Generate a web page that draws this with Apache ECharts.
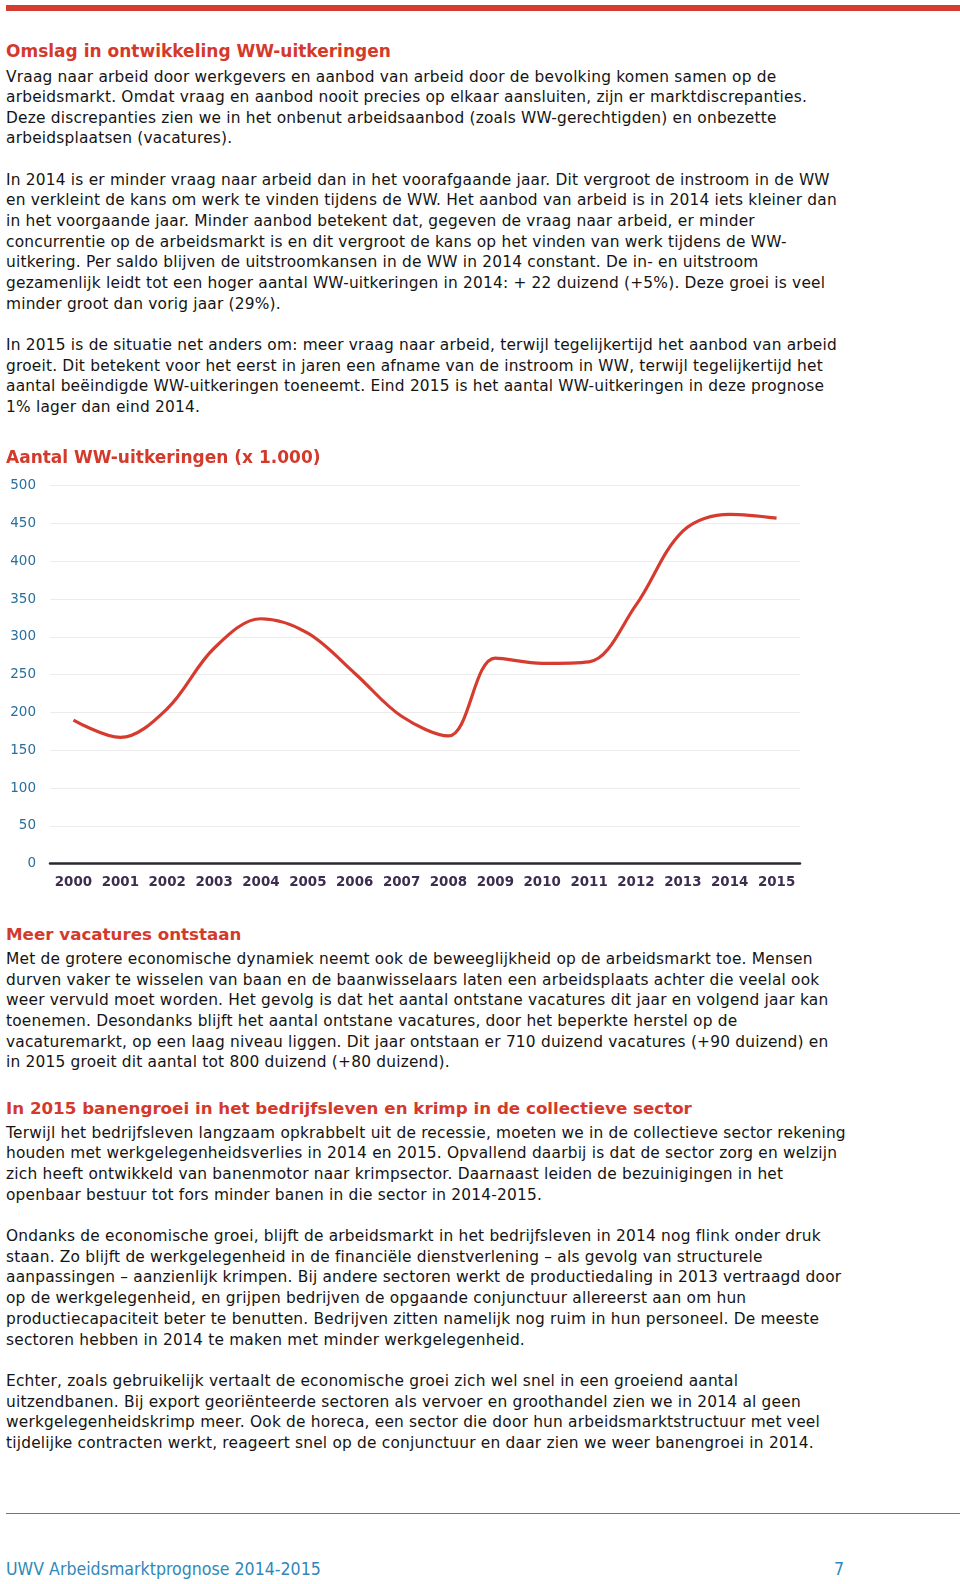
<!DOCTYPE html>
<html>
<head>
<meta charset="utf-8">
<script src="https://cdn.jsdelivr.net/npm/echarts@6/dist/echarts.min.js"></script>
<style>
  html, body { margin: 0; padding: 0; background: #fff; }
  body { width: 960px; height: 1584px; position: relative; overflow: hidden; font-family: "DejaVu Sans", Verdana, sans-serif; color: #141414; }
  .bar { position: absolute; left: 6px; right: 0; top: 5px; height: 6px; background: #d63b2f; }
  .rule { position: absolute; left: 6px; right: 0; top: 1513px; height: 1px; background: #dd4a42; }
  .h { position: absolute; left: 6px; font-size: 17px; font-weight: bold; color: #d43a2c; white-space: pre; line-height: 20px; }
  .p { position: absolute; left: 6px; font-size: 15.4px; letter-spacing: 0.2px; white-space: pre; line-height: 20.65px; }
  .foot { position: absolute; font-family: "DejaVu Sans Condensed", "DejaVu Sans", sans-serif; font-size: 17.6px; color: #2f88bb; white-space: pre; line-height: 21px; }
  #chart { position: absolute; left: 0; top: 430px; width: 960px; height: 480px; }
</style>
</head>
<body>
<div class="bar"></div>
<div class="h" style="top:41px">Omslag in ontwikkeling WW-uitkeringen</div>
<div class="p" id="p1" style="top:66.5px"></div>
<div id="chart"></div>
<div class="h" style="top:924px; font-size:16.7px">Meer vacatures ontstaan</div>
<div class="p" id="p2" style="top:949px"></div>
<div class="h" style="top:1098px; font-size:16.7px">In 2015 banengroei in het bedrijfsleven en krimp in de collectieve sector</div>
<div class="p" id="p3" style="top:1122.5px; line-height:20.7px"></div>
<div class="rule"></div>
<div class="foot" style="left:6px; top:1559px">UWV Arbeidsmarktprognose 2014-2015</div>
<div class="foot" style="left:834px; top:1559px">7</div>
<script>
const years = ['2000','2001','2002','2003','2004','2005','2006','2007','2008','2009','2010','2011','2012','2013','2014','2015'];
const uitkeringen = [190, 167, 205, 285, 324, 305, 252, 195, 169, 272, 265, 267, 342, 440, 462, 457];
const chartTitle = 'Aantal WW-uitkeringen (x 1.000)';
const yMin = 0, yMax = 500, yStep = 50;

const textTop = [
  'Vraag naar arbeid door werkgevers en aanbod van arbeid door de bevolking komen samen op de',
  'arbeidsmarkt. Omdat vraag en aanbod nooit precies op elkaar aansluiten, zijn er marktdiscrepanties.',
  'Deze discrepanties zien we in het onbenut arbeidsaanbod (zoals WW-gerechtigden) en onbezette',
  'arbeidsplaatsen (vacatures).',
  '',
  'In 2014 is er minder vraag naar arbeid dan in het voorafgaande jaar. Dit vergroot de instroom in de WW',
  'en verkleint de kans om werk te vinden tijdens de WW. Het aanbod van arbeid is in 2014 iets kleiner dan',
  'in het voorgaande jaar. Minder aanbod betekent dat, gegeven de vraag naar arbeid, er minder',
  'concurrentie op de arbeidsmarkt is en dit vergroot de kans op het vinden van werk tijdens de WW-',
  'uitkering. Per saldo blijven de uitstroomkansen in de WW in 2014 constant. De in- en uitstroom',
  'gezamenlijk leidt tot een hoger aantal WW-uitkeringen in 2014: + 22 duizend (+5%). Deze groei is veel',
  'minder groot dan vorig jaar (29%).',
  '',
  'In 2015 is de situatie net anders om: meer vraag naar arbeid, terwijl tegelijkertijd het aanbod van arbeid',
  'groeit. Dit betekent voor het eerst in jaren een afname van de instroom in WW, terwijl tegelijkertijd het',
  'aantal beëindigde WW-uitkeringen toeneemt. Eind 2015 is het aantal WW-uitkeringen in deze prognose',
  '1% lager dan eind 2014.'
];
const textVacatures = [
  'Met de grotere economische dynamiek neemt ook de beweeglijkheid op de arbeidsmarkt toe. Mensen',
  'durven vaker te wisselen van baan en de baanwisselaars laten een arbeidsplaats achter die veelal ook',
  'weer vervuld moet worden. Het gevolg is dat het aantal ontstane vacatures dit jaar en volgend jaar kan',
  'toenemen. Desondanks blijft het aantal ontstane vacatures, door het beperkte herstel op de',
  'vacaturemarkt, op een laag niveau liggen. Dit jaar ontstaan er 710 duizend vacatures (+90 duizend) en',
  'in 2015 groeit dit aantal tot 800 duizend (+80 duizend).'
];
const textBanen = [
  'Terwijl het bedrijfsleven langzaam opkrabbelt uit de recessie, moeten we in de collectieve sector rekening',
  'houden met werkgelegenheidsverlies in 2014 en 2015. Opvallend daarbij is dat de sector zorg en welzijn',
  'zich heeft ontwikkeld van banenmotor naar krimpsector. Daarnaast leiden de bezuinigingen in het',
  'openbaar bestuur tot fors minder banen in die sector in 2014-2015.',
  '',
  'Ondanks de economische groei, blijft de arbeidsmarkt in het bedrijfsleven in 2014 nog flink onder druk',
  'staan. Zo blijft de werkgelegenheid in de financiële dienstverlening \u2013 als gevolg van structurele',
  'aanpassingen \u2013 aanzienlijk krimpen. Bij andere sectoren werkt de productiedaling in 2013 vertraagd door',
  'op de werkgelegenheid, en grijpen bedrijven de opgaande conjunctuur allereerst aan om hun',
  'productiecapaciteit beter te benutten. Bedrijven zitten namelijk nog ruim in hun personeel. De meeste',
  'sectoren hebben in 2014 te maken met minder werkgelegenheid.',
  '',
  'Echter, zoals gebruikelijk vertaalt de economische groei zich wel snel in een groeiend aantal',
  'uitzendbanen. Bij export georiënteerde sectoren als vervoer en groothandel zien we in 2014 al geen',
  'werkgelegenheidskrimp meer. Ook de horeca, een sector die door hun arbeidsmarktstructuur met veel',
  'tijdelijke contracten werkt, reageert snel op de conjunctuur en daar zien we weer banengroei in 2014.'
];
document.getElementById('p1').textContent = textTop.join('\n');
document.getElementById('p2').textContent = textVacatures.join('\n');
document.getElementById('p3').textContent = textBanen.join('\n');

const chart = echarts.init(document.getElementById('chart'), null, { renderer: 'canvas' });
chart.setOption({
  animation: false,
  title: {
    text: chartTitle, left: 1, top: 15,
    textStyle: { fontFamily: 'DejaVu Sans', fontSize: 17, fontWeight: 'bold', color: '#d43a2c' }
  },
  grid: { left: 50, right: 160, top: 55.7, height: 378 },
  xAxis: {
    type: 'category', data: years, boundaryGap: true,
    axisLine: { lineStyle: { color: '#2b2730', width: 2.5 } },
    axisTick: { show: false },
    axisLabel: { fontFamily: 'DejaVu Sans', fontSize: 13.4, fontWeight: 'bold', color: '#3d2d4f', margin: 12, interval: 0 }
  },
  yAxis: {
    type: 'value', min: yMin, max: yMax, interval: yStep,
    axisLine: { show: false }, axisTick: { show: false },
    axisLabel: { fontFamily: 'DejaVu Sans', fontSize: 13.5, color: '#2b6f9c', margin: 14 },
    splitLine: { lineStyle: { color: '#ececec', width: 1 } }
  },
  series: [{
    type: 'line', data: uitkeringen, smooth: 0.35, showSymbol: false,
    lineStyle: { color: '#d63b2f', width: 3.2 }
  }]
});
</script>
</body>
</html>
